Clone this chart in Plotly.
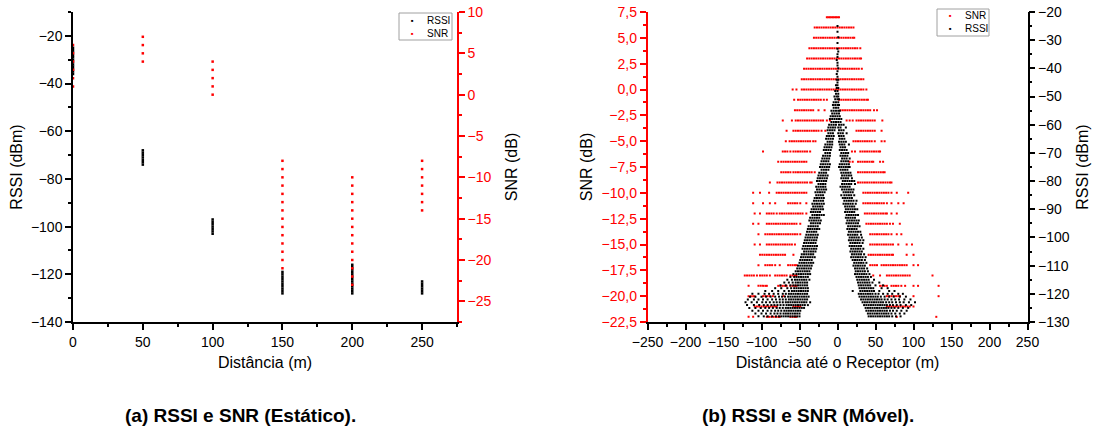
import plotly.graph_objects as go

# ---------------- (a) static measurements ----------------
static_dist_m = [0, 50, 100, 150, 200, 250]
static_rssi_dbm = [
    [-25, -26, -27, -28, -29, -30, -31, -32, -33, -34, -35, -36],
    [-68, -69, -70, -71, -72, -73, -74],
    [-97, -98, -99, -100, -101, -102, -103],
    [-119, -120, -121, -122, -123, -124, -125, -126, -127, -128],
    [-116, -117, -118, -119, -120, -121, -122, -123, -124, -125, -126, -127, -128],
    [-123, -124, -125, -126, -127, -128],
]
static_snr_db = [
    [6, 5, 4, 3, 2, 1],
    [7, 6, 5, 4],
    [4, 3, 2, 1, 0],
    [-8, -9, -10, -11, -12, -13, -14, -15, -16, -17, -18, -19, -20, -21],
    [-10, -11, -12, -13, -14, -15, -16, -17, -18, -19, -20, -21, -22, -23],
    [-8, -9, -10, -11, -12, -13, -14],
]

# ---------------- (b) mobile measurements ----------------
mobile_snr_levels = [7, 6, 5, 4, 3, 2, 1, 0, -1, -2, -3, -4, -5, -6, -7, -8, -9, -10,
                     -11, -12, -13, -14, -15, -16, -17, -18, -19, -20, -21, -22]
mobile_snr_dist = [
    [-14, -12, -10, -8, -6, -4, -2, 0, 2],
    [-30, -27, -24, -21, -18, -15, -12, -9, -6, -3, 0, 3, 6, 9, 12, 15, 18, 21],
    [-31, -28, -25, -22, -19, -16, -13, -10, -7, -4, -1, 2, 5, 8, 11, 14, 17, 20, 22],
    [-37, -34, -31, -28, -25, -22, -19, -16, -13, -10, -7, -4, -1, 2, 5, 8, 11, 14, 17, 20, 23, 26, 30],
    [-40, -37, -34, -31, -28, -25, -22, -19, -16, -13, -10, -7, -4, -1, 2, 5, 8, 11, 14, 17, 20, 23, 26, 29, 31],
    [-44, -41, -38, -35, -32, -29, -26, -23, -20, -17, -14, -11, -8, -5, -2, 1, 4, 7, 10, 13, 16, 19, 22, 25, 28, 32],
    [-47, -44, -41, -38, -35, -32, -29, -26, -23, -20, -17, -14, -11, -8, -5, -2, 1, 4, 7, 10, 13, 16, 19, 22, 25, 28, 31, 34],
    [-59, -54, -47, -44, -41, -38, -35, -32, -29, -26, -23, -20, -17, -14, -11, -8, -5, -2, 1, 4, 7, 10, 13, 16, 19, 22, 25, 28, 31, 34, 38],
    [-57, -52, -49, -46, -43, -40, -37, -34, -31, -28, -25, -22, -18, -14, 2, 5, 8, 11, 14, 17, 20, 23, 26, 29, 32, 35, 38, 40],
    [-56, -53, -50, -47, -44, -41, -38, -35, -32, -25, -17, 4, 7, 10, 13, 16, 19, 22, 25, 28, 31, 34, 37, 40, 43, 48, 52],
    [-72, -60, -55, -52, -49, -46, -43, -40, -37, -34, -31, -28, -25, -22, -19, -14, -10, 12, 16, 20, 25, 28, 31, 34, 37, 40, 43, 46, 49, 59],
    [-67, -58, -55, -52, -49, -46, -43, -40, -37, -34, -31, -28, -25, -21, -16, 25, 28, 31, 34, 37, 40, 43, 46, 49, 58],
    [-68, -63, -60, -57, -54, -51, -48, -45, -42, -39, -36, -32, -29, 21, 24, 27, 30, 33, 36, 39, 42, 45, 49, 58, 62],
    [-98, -72, -69, -66, -62, -58, -55, -52, -49, -46, -43, -40, -36, 19, 23, 30, 33, 36, 39, 42, 45, 48, 51, 54, 56],
    [-78, -74, -71, -68, -65, -62, -59, -56, -53, -50, -47, -44, -41, 16, 20, 27, 30, 33, 36, 39, 42, 45, 47, 56, 60],
    [-74, -71, -68, -65, -62, -58, -55, -52, -49, -46, -43, -40, -37, -34, -30, 27, 30, 33, 36, 39, 42, 45, 48, 51, 54, 57, 60, 62],
    [-89, -79, -76, -73, -70, -67, -64, -61, -58, -55, -52, -49, -46, -43, -40, -36, -34, 27, 30, 33, 36, 39, 42, 45, 48, 51, 54, 57, 60, 63, 66, 69, 71],
    [-111, -102, -90, -80, -77, -74, -71, -68, -65, -62, -59, -56, -53, -50, -47, -44, -41, 34, 37, 40, 43, 46, 49, 52, 55, 58, 61, 64, 67, 71, 78, 93],
    [-111, -98, -89, -82, -65, -62, -59, -56, -53, -49, -41, 34, 37, 40, 43, 46, 49, 52, 55, 58, 61, 65, 71, 80, 87],
    [-109, -102, -93, -90, -87, -84, -80, -76, -73, -70, -67, -64, -61, -58, -55, -52, -49, -46, -41, 36, 39, 42, 45, 48, 51, 54, 57, 60, 63, 65, 71, 78],
    [-111, -104, -93, -90, -87, -84, -81, -78, -75, -72, -69, -66, -63, -60, -57, -54, -49, 38, 41, 44, 47, 50, 53, 56, 59, 62, 65, 69, 73, 82],
    [-104, -95, -92, -89, -86, -83, -80, -77, -74, -71, -68, -65, -62, -59, -56, -53, -49, 43, 46, 49, 52, 55, 58, 61, 64, 67, 71, 78, 84],
    [-109, -102, -93, -90, -87, -84, -81, -78, -75, -72, -69, -66, -63, -60, -56, 43, 46, 49, 52, 55, 58, 61, 64, 67, 70, 73, 80, 91, 98],
    [-102, -99, -96, -93, -90, -87, -84, -81, -78, -75, -72, -69, -58, 41, 44, 47, 50, 53, 56, 59, 62, 65, 68, 71, 73, 91, 100],
    [-104, -95, -92, -89, -86, -82, -76, -65, -62, -59, -56, -54, 43, 46, 49, 52, 58, 61, 64, 67, 70, 73, 76, 79, 82, 85, 88, 91, 100, 106],
    [-122, -119, -116, -113, -110, -106, -102, -99, -96, -93, -89, -82, -79, -76, -73, -70, -67, -62, -59, -56, -54, 47, 56, 65, 68, 71, 74, 77, 80, 83, 86, 89, 92, 95, 125],
    [-117, -104, -101, -98, -95, -93, -78, -75, -72, -69, -67, -62, -59, -56, -54, 56, 59, 62, 65, 71, 74, 77, 80, 84, 89, 100, 106, 133],
    [-117, -114, -111, -109, -98, -95, -92, -89, -85, -71, 65, 68, 71, 74, 77, 80, 82, 100, 133],
    [-109, -106, -103, -100, -97, -94, -91, -88, -85, -82, -80, -58, -55, -52, -49, 65, 68, 71, 74, 77, 80, 83, 86, 89, 92, 95, 100],
    [-117, -111, -93, -90, -87, -84, -81, -78, -76, -62, -59, -56, -54, 78, 130],
]

mobile_rssi_levels = [
    -25, -27, -29, -31, -33, -34, -35, -36, -37, -38, -39, -40, -41, -42, -43, -44, -45,
    -46, -47, -48, -49, -50, -51, -52, -53, -54, -55, -56, -57, -58, -59, -60,
    -61, -62, -63, -64, -65, -66, -67, -68, -69, -70, -71, -72, -73, -74, -75,
    -76, -77, -78, -79, -80, -81, -82, -83, -84, -85, -86, -87, -88, -89, -90,
    -91, -92, -93, -94, -95, -96, -97, -98, -99, -100, -101, -102, -103, -104, -105,
    -106, -107, -108, -109, -110, -111, -112, -113, -114, -115, -116, -117, -118, -119, -120,
    -121, -122, -123, -124, -125, -126, -127, -128,
]
mobile_rssi_dist = [
    [0], [0], [1], [0], [0], [1], [0], [0], [-1], [0], [0], [1], [0], [-1], [0], [-1, 1], [0],
    [-2, 0], [-1, 1], [-3, 0], [-2, 1], [-4, -1, 1], [-3, 0, 2], [-5, -2, 1], [-6, -3, 0, 2],
    [-5, -2, 1], [-8, -5, -2, 1, 3], [-7, -4, -1, 2], [-9, -6, -3, 0, 3], [-10, -7, -4, -1, 2, 5],
    [-8, -5, -2, 1, 4], [-11, -8, -5, -2, 2, 5, 8],
    [-12, -9, -6, -3, 1, 4, 11],
    [-13, -10, -7, -4, 2, 5, 8],
    [-12, -9, -6, 1, 4, 7, 12],
    [-14, -11, -8, -5, 2, 5, 8],
    [-15, -12, -9, -6, 3, 6, 9],
    [-13, -10, -7, 2, 5, 8, 11],
    [-16, -13, -10, -7, 3, 6, 9, 15],
    [-17, -14, -11, -8, 4, 7, 10],
    [-18, -15, -12, -9, 3, 6, 9, 12],
    [-16, -13, -10, 5, 8, 11, 14],
    [-19, -16, -13, -10, 4, 7, 10, 13],
    [-20, -17, -14, -11, 6, 9, 12, 16],
    [-21, -18, -15, -12, 5, 8, 11, 14],
    [-22, -19, -16, -13, -10, 3, 6, 9, 12, 15],
    [-23, -20, -17, -14, -11, 2, 5, 8, 11, 14, 16],
    [-21, -18, -15, -12, 4, 7, 10, 13],
    [-24, -21, -18, -15, 5, 8, 11, 14, 17],
    [-25, -22, -19, -16, -13, 6, 9, 12, 15, 18],
    [-26, -23, -20, -17, -14, 5, 8, 11, 14, 19],
    [-27, -24, -21, -18, -15, 7, 10, 13, 16, 19, 22],
    [-25, -22, -19, -16, 6, 9, 12, 15, 18, 23],
    [-28, -25, -22, -19, -16, 4, 7, 10, 13, 16],
    [-27, -24, -21, -18, -15, 6, 9, 12, 15, 18, 21],
    [-29, -26, -23, -20, -17, 8, 11, 14, 17, 20],
    [-28, -25, -22, -19, 5, 9, 12, 15, 18, 22],
    [-30, -27, -24, -21, -18, 7, 10, 13, 16, 19],
    [-31, -28, -25, -22, -19, 9, 12, 15, 18, 21, 25],
    [-33, -30, -27, -24, -21, -18, 8, 11, 14, 17, 20, 24],
    [-32, -29, -26, -23, -20, 10, 13, 16, 19, 22],
    [-34, -31, -28, -25, -22, -19, 11, 14, 17, 20, 23, 26],
    [-35, -32, -29, -26, -23, 10, 13, 16, 19, 22],
    [-33, -30, -27, -24, -21, -18, 12, 15, 18, 21, 24, 27],
    [-36, -33, -30, -27, -24, 11, 14, 17, 20, 23],
    [-37, -34, -31, -28, -25, -22, 13, 16, 19, 22, 25, 28],
    [-35, -32, -29, -26, -23, 12, 15, 18, 21, 24, 27],
    [-38, -35, -32, -29, -26, 14, 17, 20, 23, 26, 29],
    [-39, -36, -33, -30, -27, -24, 13, 16, 19, 22, 25],
    [-40, -37, -34, -31, -28, 15, 18, 21, 24, 27, 30],
    [-41, -38, -35, -32, -29, -26, 14, 17, 20, 23, 26, 31],
    [-42, -39, -36, -33, -30, -27, 16, 19, 22, 25, 28, 32],
    [-43, -40, -37, -34, -31, -28, 15, 18, 21, 24, 27, 30, 34],
    [-44, -41, -38, -35, -32, -29, 17, 20, 23, 26, 29, 33],
    [-45, -42, -39, -36, -33, -30, -27, 16, 19, 22, 25, 28, 31],
    [-46, -43, -40, -37, -34, -31, -28, 18, 21, 24, 27, 30, 34],
    [-44, -41, -38, -35, -32, -29, 17, 20, 23, 26, 29, 32],
    [-47, -44, -41, -38, -35, -32, 19, 22, 25, 28, 31, 35],
    [-48, -45, -42, -39, -36, -33, -30, 18, 21, 24, 27, 30, 33, 37],
    [-49, -46, -43, -40, -37, -34, 20, 23, 26, 29, 32, 36],
    [-50, -47, -44, -41, -38, -35, -32, 22, 25, 28, 31, 34, 38],
    [-52, -49, -46, -43, -40, -37, -34, 21, 24, 27, 30, 33, 36],
    [-53, -50, -47, -44, -41, -38, -35, 23, 26, 29, 32, 35, 39],
    [-55, -52, -49, -46, -43, -40, -37, 24, 27, 30, 33, 36, 40],
    [-58, -54, -51, -48, -45, -42, -39, -36, 23, 26, 29, 32, 35, 38, 42],
    [-62, -57, -54, -51, -48, -45, -42, -39, 25, 28, 31, 34, 37, 40, 44],
    [-66, -60, -56, -53, -50, -47, -44, -41, -37, 26, 29, 32, 35, 38, 41, 48],
    [-70, -64, -59, -55, -52, -49, -46, -43, -40, 27, 30, 33, 36, 39, 42, 46, 55],
    [-75, -68, -62, -58, -55, -52, -49, -46, -43, -40, 28, 31, 34, 37, 40, 43, 50, 60],
    [-82, -74, -66, -61, -57, -54, -51, -48, -45, -42, -39, 29, 32, 35, 38, 41, 44, 47, 58, 66],
    [-95, -86, -78, -70, -64, -60, -57, -54, -51, -48, -45, -42, -39, 20, 30, 33, 36, 39, 42, 45, 48, 55, 68, 75],
    [-112, -104, -96, -90, -84, -78, -72, -68, -64, -61, -58, -55, -52, -49, -46, -43, -40,
     28, 31, 34, 37, 40, 43, 46, 50, 54, 60, 66, 72, 80, 86],
    [-115, -108, -100, -94, -88, -82, -77, -73, -69, -65, -62, -59, -56, -53, -50, -47, -44, -41, -38,
     29, 32, 35, 38, 41, 44, 47, 50, 53, 57, 62, 68, 74, 82, 90],
    [-118, -110, -104, -98, -92, -86, -81, -76, -72, -68, -64, -61, -58, -55, -52, -49, -46, -43, -40,
     31, 34, 37, 40, 43, 46, 49, 52, 55, 58, 62, 66, 71, 76, 81, 88, 96],
    [-121, -113, -106, -99, -94, -89, -84, -80, -76, -72, -68, -65, -62, -59, -56, -53, -50, -47, -44, -41, -36,
     33, 36, 39, 42, 45, 48, 51, 54, 57, 60, 64, 68, 72, 77, 82, 87, 94, 102],
    [-119, -110, -103, -97, -92, -87, -83, -79, -75, -71, -67, -64, -61, -58, -55, -52, -49, -46, -43, -39,
     35, 38, 41, 44, 47, 50, 53, 56, 59, 62, 65, 69, 73, 78, 83, 90, 97],
    [-116, -108, -101, -95, -90, -85, -80, -76, -72, -68, -65, -62, -59, -56, -53, -50, -47, -44,
     37, 40, 43, 46, 49, 52, 55, 58, 61, 64, 67, 71, 75, 80, 86, 93],
    [-112, -104, -98, -92, -87, -82, -78, -74, -70, -67, -64, -61, -58, -55, -52, -49,
     38, 41, 44, 47, 50, 53, 56, 59, 62, 65, 69, 73, 78, 84, 91],
    [-108, -100, -94, -88, -83, -79, -75, -71, -68, -65, -62, -59, -56, -53, -50,
     40, 43, 46, 49, 52, 55, 58, 61, 64, 67, 71, 76, 82, 88],
    [-104, -97, -92, -86, -81, -77, -74, -71, -68, -65, -62, -59, -56, -53, -50,
     41, 44, 47, 50, 53, 56, 59, 62, 65, 68, 72, 77, 83],
]

# tick labels
static_x_ticks = [0, 50, 100, 150, 200, 250]
static_rssi_ticks = [-140, -120, -100, -80, -60, -40, -20]
static_snr_ticks = [-25, -20, -15, -10, -5, 0, 5, 10]
mobile_x_ticks = [-250, -200, -150, -100, -50, 0, 50, 100, 150, 200, 250]
mobile_snr_ticks = [-22.5, -20.0, -17.5, -15.0, -12.5, -10.0, -7.5, -5.0, -2.5, 0.0, 2.5, 5.0, 7.5]
mobile_snr_ticktext = ["−22,5", "−20,0", "−17,5", "−15,0", "−12,5", "−10,0", "−7,5",
                       "−5,0", "−2,5", "0,0", "2,5", "5,0", "7,5"]
mobile_rssi_ticks = [-130, -120, -110, -100, -90, -80, -70, -60, -50, -40, -30, -20]


def minus(v):
    return str(v).replace("-", "−")


def flatten(xs_groups, levels):
    xs, ys = [], []
    for i, grp in enumerate(xs_groups):
        for v in grp:
            xs.append(v)
            ys.append(levels[i])
    return xs, ys


st_rssi_x, st_rssi_y = [], []
st_snr_x, st_snr_y = [], []
for d, rs, sn in zip(static_dist_m, static_rssi_dbm, static_snr_db):
    st_rssi_x += [d] * len(rs)
    st_rssi_y += rs
    st_snr_x += [d] * len(sn)
    st_snr_y += sn

mb_snr_x, mb_snr_y = flatten(mobile_snr_dist, mobile_snr_levels)
mb_rssi_x, mb_rssi_y = flatten(mobile_rssi_dist, mobile_rssi_levels)

FONT = "Liberation Sans, Arial, sans-serif"
RED = "#ff0000"
W, H = 1095, 434

fig = go.Figure()
fig.add_trace(go.Scatter(x=st_rssi_x, y=st_rssi_y, mode="markers", name="RSSI",
                         marker=dict(color="black", size=2.5, symbol="square"),
                         xaxis="x", yaxis="y", showlegend=False))
fig.add_trace(go.Scatter(x=st_snr_x, y=st_snr_y, mode="markers", name="SNR",
                         marker=dict(color=RED, size=2.5, symbol="square"),
                         xaxis="x", yaxis="y2", showlegend=False))
fig.add_trace(go.Scatter(x=mb_snr_x, y=mb_snr_y, mode="markers", name="SNR",
                         marker=dict(color=RED, size=2, symbol="square"),
                         xaxis="x2", yaxis="y3", showlegend=False))
fig.add_trace(go.Scatter(x=mb_rssi_x, y=mb_rssi_y, mode="markers", name="RSSI",
                         marker=dict(color="black", size=2, symbol="square"),
                         xaxis="x2", yaxis="y4", showlegend=False))

xd1 = [73 / W, 457 / W]
xd2 = [647.5 / W, 1027.5 / W]
yd = [1 - 322 / H, 1 - 12 / H]

tickfont = dict(family=FONT, size=14, color="black")
redfont = dict(family=FONT, size=14, color=RED)
titlefont = dict(family=FONT, size=16, color="black")

common = dict(showgrid=False, zeroline=False, showline=True, linewidth=1.5,
              ticks="outside", ticklen=6, tickwidth=1.5, automargin=False)


def minor(dt, col):
    return dict(dtick=dt, tick0=0, ticklen=3, ticks="outside", tickcolor=col, tickwidth=1.5)


fig.update_layout(
    width=W, height=H, autosize=False,
    margin=dict(l=0, r=0, t=0, b=0),
    paper_bgcolor="white", plot_bgcolor="white",
    font=dict(family=FONT, size=14, color="black"),
    xaxis=dict(domain=xd1, anchor="y", range=[0, 275], tickvals=static_x_ticks,
               ticktext=[minus(v) for v in static_x_ticks], linecolor="black", tickcolor="black",
               tickfont=tickfont, title=dict(text="Distância (m)", font=titlefont, standoff=8),
               minor=minor(25, "black"), **common),
    yaxis=dict(domain=yd, anchor="x", range=[-140, -10], tickvals=static_rssi_ticks,
               ticktext=[minus(v) for v in static_rssi_ticks], linecolor="black", tickcolor="black",
               tickfont=tickfont, title=dict(text="RSSI (dBm)", font=titlefont, standoff=4),
               minor=minor(10, "black"), **common),
    yaxis2=dict(domain=yd, anchor="x", overlaying="y", side="right", range=[-27.5, 10],
                tickvals=static_snr_ticks, ticktext=[minus(v) for v in static_snr_ticks],
                linecolor=RED, tickcolor=RED, tickfont=redfont,
                title=dict(text="SNR (dB)", font=titlefont, standoff=15),
                minor=minor(2.5, RED), **common),
    xaxis2=dict(domain=xd2, anchor="y3", range=[-250, 250], tickvals=mobile_x_ticks,
                ticktext=[minus(v) for v in mobile_x_ticks], linecolor="black", tickcolor="black",
                tickfont=tickfont,
                title=dict(text="Distância até o Receptor (m)", font=titlefont, standoff=8),
                minor=minor(25, "black"), **common),
    yaxis3=dict(domain=yd, anchor="x2", range=[-22.5, 7.5], tickvals=mobile_snr_ticks,
                ticktext=mobile_snr_ticktext, linecolor=RED, tickcolor=RED, tickfont=redfont,
                title=dict(text="SNR (dB)", font=titlefont, standoff=5),
                minor=minor(1.25, RED), **common),
    yaxis4=dict(domain=yd, anchor="x2", overlaying="y3", side="right", range=[-130, -20],
                tickvals=mobile_rssi_ticks, ticktext=[minus(v) for v in mobile_rssi_ticks],
                linecolor="black", tickcolor="black", tickfont=tickfont,
                title=dict(text="RSSI (dBm)", font=titlefont, standoff=8),
                minor=minor(5, "black"), **common),
)


def px(x):
    return x / W


def py(y):
    return 1 - y / H


legends = [
    dict(box=(399, 13, 452, 40), items=[("RSSI", "black", 20), ("SNR", RED, 33)], dot=412, txt=425),
    dict(box=(937, 9, 989, 36), items=[("SNR", RED, 16), ("RSSI", "black", 29)], dot=950, txt=963),
]
shapes = []
annotations = []
for lg in legends:
    x0, y0, x1, y1 = lg["box"]
    shapes.append(dict(type="rect", xref="paper", yref="paper", x0=px(x0), x1=px(x1),
                       y0=py(y1), y1=py(y0), line=dict(color="#a0a0a0", width=1),
                       fillcolor="rgba(255,255,255,0)"))
    for label, col, yy in lg["items"]:
        annotations.append(dict(xref="paper", yref="paper", x=px(lg["dot"]), y=py(yy),
                                text="■", showarrow=False, xanchor="center", yanchor="middle",
                                font=dict(family=FONT, size=4, color=col)))
        annotations.append(dict(xref="paper", yref="paper", x=px(lg["txt"]), y=py(yy),
                                text=label, showarrow=False, xanchor="left", yanchor="middle",
                                font=dict(family=FONT, size=10, color="black")))

annotations.append(dict(xref="paper", yref="paper", x=px(240), y=py(415),
                        text="<b>(a) RSSI e SNR (Estático).</b>", showarrow=False,
                        xanchor="center", yanchor="middle",
                        font=dict(family=FONT, size=19, color="black")))
annotations.append(dict(xref="paper", yref="paper", x=px(808), y=py(415),
                        text="<b>(b) RSSI e SNR (Móvel).</b>", showarrow=False,
                        xanchor="center", yanchor="middle",
                        font=dict(family=FONT, size=19, color="black")))

fig.update_layout(shapes=shapes, annotations=annotations)
fig.write_html("out.html", config={"displayModeBar": False},
               post_script="document.body.style.margin='0';document.body.style.overflow='hidden';")
